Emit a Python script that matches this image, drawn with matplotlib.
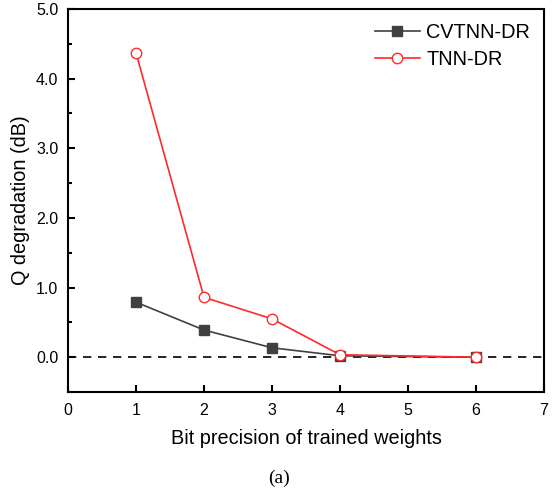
import matplotlib
matplotlib.use("Agg")
import matplotlib.pyplot as plt
from matplotlib.ticker import MultipleLocator, FormatStrFormatter

bits = [1, 2, 3, 4, 6]
cvtnn = [0.79, 0.39, 0.135, 0.02, 0.0]
tnn = [4.37, 0.86, 0.55, 0.035, 0.0]

plt.rcParams['font.family'] = ['Liberation Sans', 'DejaVu Sans']
fig = plt.figure(figsize=(5.57, 4.90), dpi=100)
ax = fig.add_axes([68 / 557, 1 - 392 / 490, (544 - 68) / 557, (392 - 9) / 490])

ax.axhline(0, color='black', lw=1.2, ls=(0, (5, 4)), zorder=1)
ax.plot(bits, cvtnn, color='#404040', lw=1.2, marker='s', ms=6.5, mfc='#404040', mec='#404040', label='CVTNN-DR', zorder=3)
ax.plot(bits, tnn, color='#ff2a2a', lw=1.2, marker='o', ms=7.5, mfc='white', mec='#ff2a2a', label='TNN-DR', zorder=4)

ax.set_xlim(0, 7)
ax.set_ylim(-0.5, 5.0)
ax.xaxis.set_major_locator(MultipleLocator(1))
ax.yaxis.set_major_locator(MultipleLocator(1))
ax.yaxis.set_minor_locator(MultipleLocator(0.5))
ax.yaxis.set_major_formatter(FormatStrFormatter('%.1f'))
ax.tick_params(direction='in', which='both', labelsize=11.5, width=1.5)
ax.tick_params(which='major', length=5)
ax.tick_params(which='minor', length=3)
ax.tick_params(axis='x', which='major', pad=8)
ax.tick_params(axis='y', which='major', pad=7)
for s in ax.spines.values():
    s.set_linewidth(1.5)

ax.set_xlabel('Bit precision of trained weights', fontsize=14.3, labelpad=8)
ax.set_ylabel('Q degradation (dB)', fontsize=14.3, labelpad=4)
ax.legend(loc='upper right', frameon=False, fontsize=14.3, handlelength=2.3,
          handletextpad=0.3, borderaxespad=0.4, labelspacing=0.4, borderpad=0.3)

fig.text(279 / 557, 1 - 478 / 490, '(a)', ha='center', va='center', fontsize=14, family='Liberation Serif')

fig.savefig('out.png', dpi=100)
